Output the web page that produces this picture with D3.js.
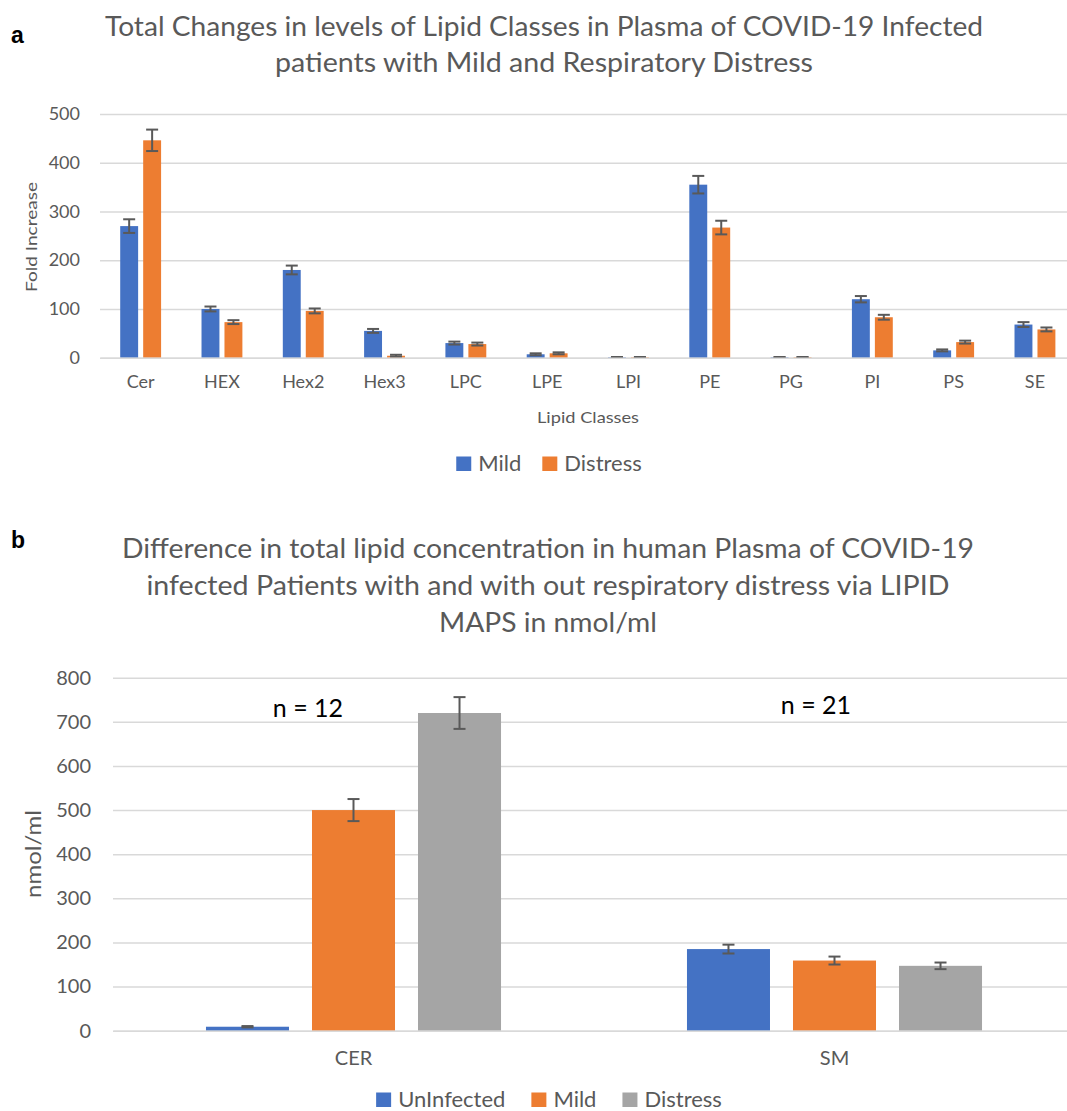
<!DOCTYPE html>
<meta charset="utf-8">
<script src="https://cdn.jsdelivr.net/npm/d3@7"></script>
<style>
    body { margin: 0; background: #fff; }
    text { font-family: Lato, "Open Sans", sans-serif; fill: #595959; }
    .panel { font-family: "Liberation Sans", Arial, sans-serif; font-weight: bold; fill: #000; }
</style>
<body>
<script>
// ---- panel a data ----
var lipidClasses = ["Cer","HEX","Hex2","Hex3","LPC","LPE","LPI","PE","PG","PI","PS","SE"];
var mildA        = [270, 100, 180, 55, 30, 7, 1, 355, 1, 120, 15, 68];
var distressA    = [446,  73,  96,  4, 28, 9, 1, 267, 1,  83, 32, 58];
var mildErrA     = [ 14,   5,   9,  4,  3, 2, 0.5, 18, 0.5, 6.5, 2, 5];
var distressErrA = [ 22,   4,   5,  2,  3, 2, 0.5, 14, 0.5, 5,   3, 4];
var seriesA = ["Mild", "Distress"];
var ticksA = [0, 100, 200, 300, 400, 500];

// ---- panel b data ----
var groupsB      = ["CER", "SM"];
var uninfB       = [9, 185];
var mildB        = [500, 159];
var distressB    = [720, 147];
var uninfErrB    = [1.5, 10];
var mildErrB     = [25, 9];
var distressErrB = [36, 7.5];
var seriesB = ["UnInfected", "Mild", "Distress"];
var nLabels = ["n = 12", "n = 21"];
var ticksB = [0, 100, 200, 300, 400, 500, 600, 700, 800];

var colors = {UnInfected: "#4472C4", Mild: "#ED7D31", Distress: "#A5A5A5"};
var colorsA = {Mild: "#4472C4", Distress: "#ED7D31"};

var svg = d3.select("body").append("svg")
    .attr("width", 1067)
    .attr("height", 1111);

function fitText(sel, len) {
    sel.attr("textLength", len).attr("lengthAdjust", "spacingAndGlyphs");
}

// ===================== panel a =====================
svg.append("text").attr("class", "panel").attr("x", 11).attr("y", 43)
    .attr("font-size", "23px").text("a");

var titleA = [["Total Changes in levels of Lipid Classes in Plasma of COVID-19 Infected", 878, 36],
              ["patients with Mild and Respiratory Distress", 538, 72]];
titleA.forEach(function(t) {
    svg.append("text").attr("x", 544).attr("y", t[2]).attr("text-anchor", "middle")
        .attr("font-size", "26px").text(t[0]).call(fitText, t[1]);
});

var xA = d3.scaleBand().domain(lipidClasses).range([100, 1075.6]);
var xA1 = d3.scaleBand().domain(seriesA).range([0, xA.bandwidth()])
    .paddingInner(0.22).paddingOuter(0.88);
var yA = d3.scaleLinear().domain([0, 500]).range([357.7, 114]);

var gA = svg.append("g");
gA.append("g")
    .attr("transform", "translate(100,0)")
    .call(d3.axisLeft(yA).tickValues(ticksA).tickSize(-980).tickPadding(20))
    .call(function(g) {
        g.select(".domain").remove();
        g.selectAll(".tick line").attr("stroke", "#d9d9d9").attr("stroke-width", 1.5);
        g.selectAll(".tick text").attr("font-size", "18px").attr("fill", "#595959")
            .attr("font-family", "Lato, sans-serif");
    });

var rowsA = lipidClasses.map(function(c, i) {
    return [{cls: c, s: "Mild", v: mildA[i], e: mildErrA[i]},
            {cls: c, s: "Distress", v: distressA[i], e: distressErrA[i]}];
});
var flatA = d3.merge(rowsA);

gA.selectAll("rect.bar").data(flatA).enter().append("rect")
    .attr("class", "bar")
    .attr("x", function(d) { return xA(d.cls) + xA1(d.s); })
    .attr("width", xA1.bandwidth())
    .attr("y", function(d) { return yA(d.v); })
    .attr("height", function(d) { return yA(0) - yA(d.v); })
    .attr("fill", function(d) { return colorsA[d.s]; });

function errorBars(g, data, x, x1, y, cap) {
    var eb = g.selectAll("g.err").data(data).enter().append("g").attr("class", "err")
        .attr("stroke", "#595959").attr("stroke-width", 2);
    eb.append("line")
        .attr("x1", function(d) { return x(d.cls) + x1(d.s) + x1.bandwidth() / 2; })
        .attr("x2", function(d) { return x(d.cls) + x1(d.s) + x1.bandwidth() / 2; })
        .attr("y1", function(d) { return y(d.v + d.e); })
        .attr("y2", function(d) { return y(Math.max(0, d.v - d.e)); });
    [1, -1].forEach(function(sgn) {
        eb.append("line")
            .attr("x1", function(d) { return x(d.cls) + x1(d.s) + x1.bandwidth() / 2 - cap / 2; })
            .attr("x2", function(d) { return x(d.cls) + x1(d.s) + x1.bandwidth() / 2 + cap / 2; })
            .attr("y1", function(d) { return y(Math.max(0, d.v + sgn * d.e)); })
            .attr("y2", function(d) { return y(Math.max(0, d.v + sgn * d.e)); });
    });
}
errorBars(gA, flatA, xA, xA1, yA, 12);

gA.append("g")
    .attr("transform", "translate(0,357.7)")
    .call(d3.axisBottom(xA).tickSize(0).tickPadding(18))
    .call(function(g) {
        g.select(".domain").attr("stroke", "#d9d9d9").attr("stroke-width", 1.5);
        g.selectAll(".tick text").attr("font-size", "18px").attr("fill", "#595959")
            .attr("font-family", "Lato, sans-serif");
    });

svg.append("text").attr("transform", "translate(37,237) rotate(-90)")
    .attr("text-anchor", "middle").attr("font-size", "15px").text("Fold Increase")
    .call(fitText, 110);
svg.append("text").attr("x", 588).attr("y", 423).attr("text-anchor", "middle")
    .attr("font-size", "15px").text("Lipid Classes").call(fitText, 102);

function legend(items, cmap, cx, baseline, gap) {
    var lg = svg.append("g");
    var x = 0;
    items.forEach(function(s) {
        var it = lg.append("g").attr("transform", "translate(" + x + ",0)");
        it.append("rect").attr("x", 0).attr("y", baseline - 14.5).attr("width", 15)
            .attr("height", 14.5).attr("fill", cmap[s]);
        var t = it.append("text").attr("x", 22).attr("y", baseline)
            .attr("font-size", "22px").text(s);
        x += 22 + t.node().getComputedTextLength() + gap;
    });
    var w = x - gap;
    lg.attr("transform", "translate(" + (cx - w / 2) + ",0)");
}
legend(seriesA, colorsA, 549, 471, 21);

// ===================== panel b =====================
svg.append("text").attr("class", "panel").attr("x", 11).attr("y", 548)
    .attr("font-size", "23px").text("b");

var titleB = [["Difference in total lipid concentration in human Plasma of COVID-19", 852, 558],
              ["infected Patients with and with out respiratory distress via LIPID", 803, 595],
              ["MAPS in nmol/ml", 218, 632]];
titleB.forEach(function(t) {
    svg.append("text").attr("x", 548).attr("y", t[2]).attr("text-anchor", "middle")
        .attr("font-size", "26px").text(t[0]).call(fitText, t[1]);
});

var xB = d3.scaleBand().domain(groupsB).range([113, 1075]);
var xB1 = d3.scaleBand().domain(seriesB).range([0, xB.bandwidth()])
    .paddingInner(0.217).paddingOuter(0.877);
var yB = d3.scaleLinear().domain([0, 800]).range([1030.7, 677.7]);

var gB = svg.append("g");
gB.append("g")
    .attr("transform", "translate(113,0)")
    .call(d3.axisLeft(yB).tickValues(ticksB).tickSize(-970).tickPadding(22))
    .call(function(g) {
        g.select(".domain").remove();
        g.selectAll(".tick line").attr("stroke", "#d9d9d9").attr("stroke-width", 1.5);
        g.selectAll(".tick text").attr("font-size", "20px").attr("fill", "#595959")
            .attr("font-family", "Lato, sans-serif");
    });

var flatB = [];
groupsB.forEach(function(c, i) {
    flatB.push({cls: c, s: "UnInfected", v: uninfB[i], e: uninfErrB[i]});
    flatB.push({cls: c, s: "Mild", v: mildB[i], e: mildErrB[i]});
    flatB.push({cls: c, s: "Distress", v: distressB[i], e: distressErrB[i]});
});

gB.selectAll("rect.bar").data(flatB).enter().append("rect")
    .attr("class", "bar")
    .attr("x", function(d) { return xB(d.cls) + xB1(d.s); })
    .attr("width", xB1.bandwidth())
    .attr("y", function(d) { return yB(d.v); })
    .attr("height", function(d) { return yB(0) - yB(d.v); })
    .attr("fill", function(d) { return colors[d.s]; });

errorBars(gB, flatB, xB, xB1, yB, 12);

gB.append("g")
    .attr("transform", "translate(0,1030.7)")
    .call(d3.axisBottom(xB).tickSize(0).tickPadding(20))
    .call(function(g) {
        g.select(".domain").attr("stroke", "#d9d9d9").attr("stroke-width", 1.5);
        g.selectAll(".tick text").attr("font-size", "20px").attr("fill", "#595959")
            .attr("font-family", "Lato, sans-serif");
    });

// n labels, slightly left of group centre
var nPos = [[308, 717], [816, 714]];
nLabels.forEach(function(n, i) {
    svg.append("text").attr("x", nPos[i][0]).attr("y", nPos[i][1]).attr("text-anchor", "middle")
        .attr("font-size", "25px").style("fill", "#000").text(n);
});

svg.append("text").attr("transform", "translate(41,854) rotate(-90)")
    .attr("text-anchor", "middle").attr("font-size", "22px").text("nmol/ml")
    .call(fitText, 88);

legend(seriesB, colors, 549, 1107, 26);
</script>
</body>
</html>
